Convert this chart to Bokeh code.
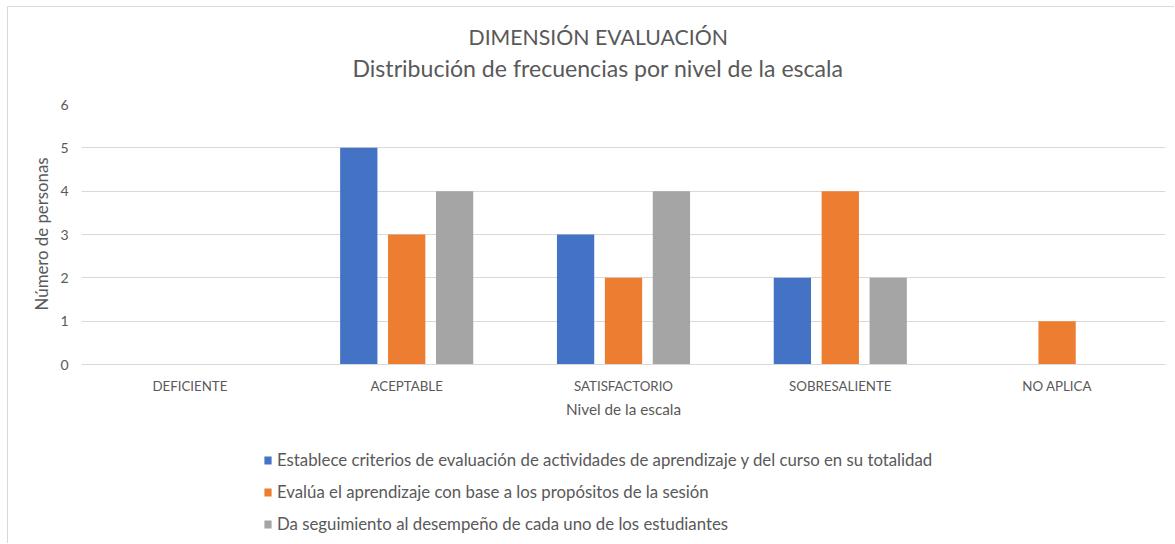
from bokeh.plotting import figure
from bokeh.models import (ColumnDataSource, Title, Legend, LegendItem, FactorRange,
                          FixedTicker, Range1d)
from bokeh.transform import dodge
from bokeh.embed import file_html
from bokeh.resources import INLINE

categories = ["DEFICIENTE", "ACEPTABLE", "SATISFACTORIO", "SOBRESALIENTE", "NO APLICA"]
series_names = [
    "Establece criterios de evaluación de actividades de aprendizaje y del curso en su totalidad",
    "Evalúa el aprendizaje con base a los propósitos de la sesión",
    "Da seguimiento al desempeño de cada uno de los estudiantes",
]
establece = [0, 5, 3, 2, 0]
evalua = [0, 3, 2, 4, 1]
seguimiento = [0, 4, 4, 2, 0]
y_ticks = [0, 1, 2, 3, 4, 5, 6]
colors = ["#4472C4", "#ED7D31", "#A5A5A5"]

FONT = "Lato"
TXT = "#595959"

source = ColumnDataSource(dict(cat=categories, s0=establece, s1=evalua, s2=seguimiento))

# frame spans value axis 0..6 (260 px) plus room below for category labels and legend
p = figure(
    x_range=FactorRange(*categories, range_padding=0),
    y_range=Range1d(-3.969, 6),
    width=1167, height=537,
    output_backend="svg", toolbar_location=None,
    min_border_left=73, min_border_right=10, min_border_top=97, min_border_bottom=8,
    title=None,
)
p.outline_line_color = None

renderers = []
offsets = [-0.221, 0.0, 0.221]
for i, (col, off) in enumerate(zip(["s0", "s1", "s2"], offsets)):
    r = p.vbar(x=dodge("cat", off, range=p.x_range), top=col, width=0.172, source=source,
               fill_color=colors[i], line_color=None)
    renderers.append(r)

p.add_layout(Title(text="Distribución de frecuencias por nivel de la escala", align="left",
                   offset=271, text_font=FONT, text_font_size="23.1px",
                   text_font_style="normal", text_color=TXT, standoff=45), "above")
p.add_layout(Title(text="DIMENSIÓN EVALUACIÓN", align="left", offset=387,
                   text_font=FONT, text_font_size="21.25px", text_font_style="normal",
                   text_color=TXT, standoff=-41), "above")

# grid
p.xgrid.grid_line_color = None
p.ygrid.grid_line_color = "#D9D9D9"
p.ygrid.grid_line_width = 1
p.yaxis.ticker = FixedTicker(ticks=y_ticks)

# y axis
p.yaxis.axis_line_color = None
p.yaxis.major_tick_line_color = None
p.yaxis.minor_tick_line_color = None
p.yaxis.major_label_text_font = FONT
p.yaxis.major_label_text_font_size = "14px"
p.yaxis.major_label_text_color = TXT
p.yaxis.major_label_standoff = 7
p.yaxis.axis_label = None
p.add_layout(Title(text="Número de personas", align="right", offset=53,
                   text_font=FONT, text_font_size="16.8px", text_font_style="normal",
                   text_color=TXT, standoff=12), "left")

# x axis sits at value 0
p.xaxis.fixed_location = 0
p.xaxis.axis_line_color = "#D9D9D9"
p.xaxis.major_tick_line_color = None
p.xaxis.minor_tick_line_color = None
p.xaxis.major_label_text_font = FONT
p.xaxis.major_label_text_font_size = "13.3px"
p.xaxis.major_label_text_color = TXT
p.xaxis.major_label_standoff = 7
p.xaxis.axis_label = "Nivel de la escala"
p.xaxis.axis_label_text_font = FONT
p.xaxis.axis_label_text_font_size = "15.3px"
p.xaxis.axis_label_text_font_style = "normal"
p.xaxis.axis_label_text_color = TXT
p.xaxis.axis_label_standoff = 3

legend = Legend(
    items=[LegendItem(label=n, renderers=[r]) for n, r in zip(series_names, renderers)],
    orientation="vertical", location=(182, 2),
    label_text_font=FONT, label_text_font_size="16.8px", label_text_color=TXT,
    glyph_width=9, glyph_height=10, label_height=20, spacing=11, label_standoff=5,
    padding=0, margin=0, border_line_color=None, background_fill_alpha=0,
)
p.add_layout(legend, "center")

p.styles = {"margin-left": "7px", "margin-top": "6px",
            "border-left": "1px solid #D9D9D9", "border-top": "1px solid #D9D9D9"}

open("out.html", "w").write(file_html(p, INLINE))
